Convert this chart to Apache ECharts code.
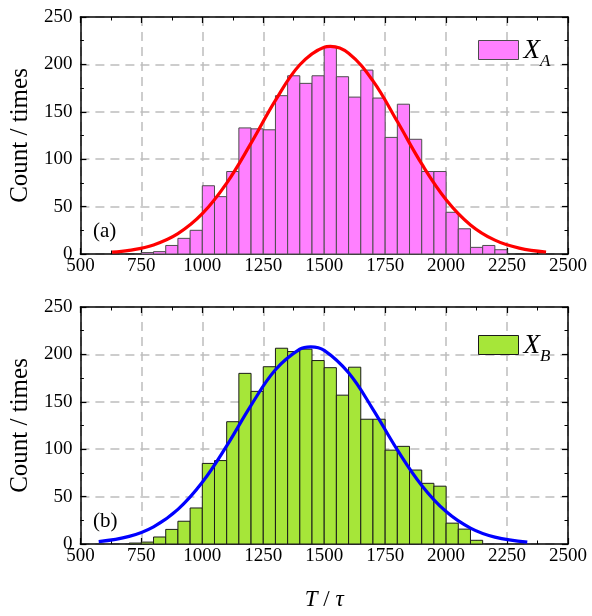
<!DOCTYPE html>
<html>
<head>
<meta charset="utf-8">
<script src="https://cdn.jsdelivr.net/npm/echarts@6/dist/echarts.min.js"></script>
<style>html,body{margin:0;padding:0;background:#fff;}#c{width:592px;height:616px;}</style>
</head>
<body>
<div id="c"></div>
<script>
// ---- data ----
const xTicks = [500, 750, 1000, 1250, 1500, 1750, 2000, 2250, 2500];
const yTicks = [0, 50, 100, 150, 200, 250];
const binWidth = 50;
const binStartsA = [750, 800, 850, 900, 950, 1000, 1050, 1100, 1150, 1200, 1250, 1300, 1350, 1400, 1450, 1500, 1550, 1600, 1650, 1700, 1750, 1800, 1850, 1900, 1950, 2000, 2050, 2100, 2150, 2200];
const countsA    = [1.5, 2.5, 9, 16.5, 25, 72, 60.5, 87, 133, 132, 131, 167, 188, 180, 188, 219, 187, 165.5, 194, 164.5, 123, 158, 121, 87, 87, 44, 26.6, 7, 9, 4.5];
const binStartsB = [700, 750, 800, 850, 900, 950, 1000, 1050, 1100, 1150, 1200, 1250, 1300, 1350, 1400, 1450, 1500, 1550, 1600, 1650, 1700, 1750, 1800, 1850, 1900, 1950, 2000, 2050, 2100];
const countsB    = [1, 2, 7.4, 15.4, 24, 38, 85, 88, 129, 180, 161, 187, 206.5, 203, 205.5, 193.5, 186, 157, 186.5, 131.6, 131.6, 99, 103, 78, 64, 61, 22, 15.7, 3.9];
const fitXA = [630, 700, 800, 900, 1000, 1100, 1200, 1300, 1400, 1500, 1525, 1600, 1700, 1800, 1900, 2000, 2100, 2200, 2300, 2410];
const fitYA = [1.9, 3.8, 9.6, 21.5, 42.5, 74.8, 116.9, 162, 199.6, 218.2, 219, 211.8, 182.6, 139.7, 95, 57.3, 30.7, 14.6, 6.2, 2.1];
const fitXB = [575, 700, 800, 900, 1000, 1100, 1200, 1300, 1400, 1445, 1500, 1600, 1700, 1800, 1900, 2000, 2100, 2200, 2333];
const fitYB = [2.5, 8.0, 18.1, 36.5, 65.1, 103.5, 146.3, 183.8, 205.5, 208, 204.3, 180.6, 142.1, 99.3, 61.8, 34.2, 16.8, 7.3, 2.0];

const FONT = '"Liberation Serif", "Times New Roman", serif';
const chart = echarts.init(document.getElementById('c'), null, {renderer: 'canvas'});

const grids = [
  {left: 76, top: 17, width: 492, height: 237},
  {left: 76, top: 307, width: 492, height: 237}
];

function xAxes(gi) {
  const base = {
    gridIndex: gi, type: 'value', min: xTicks[0], max: xTicks[xTicks.length - 1], interval: 250,
    axisLine: {show: true, onZero: false, lineStyle: {color: '#000', width: 1.5}},
    axisTick: {show: true, inside: true, length: 6, lineStyle: {color: '#000', width: 1.2}},
    minorTick: {show: true, splitNumber: 2, length: 3.5, lineStyle: {color: '#000', width: 1}},
  };
  return [
    Object.assign({}, base, {
      position: 'bottom',
      axisLabel: {show: true, margin: 3, color: '#000', fontFamily: FONT, fontSize: 19, formatter: v => String(v)},
      splitLine: {show: true, lineStyle: {color: '#bdbdbd', type: [9, 6], width: 1.5}},
      name: gi === 1 ? '{i|T} / {i|τ}' : '', nameLocation: 'middle', nameGap: 44,
      nameTextStyle: {color: '#000', fontFamily: FONT, fontSize: 23, rich: {i: {fontStyle: 'italic', fontFamily: FONT, fontSize: 23, color: '#000'}}}
    }),
    Object.assign({}, base, {position: 'top', axisLabel: {show: false}, splitLine: {show: false}})
  ];
}
function yAxes(gi) {
  const base = {
    gridIndex: gi, type: 'value', min: yTicks[0], max: yTicks[yTicks.length - 1], interval: 50,
    axisLine: {show: true, onZero: false, lineStyle: {color: '#000', width: 1.5}},
    axisTick: {show: true, inside: true, length: 6, lineStyle: {color: '#000', width: 1.2}},
    minorTick: {show: true, splitNumber: 2, length: 3.5, lineStyle: {color: '#000', width: 1}},
  };
  return [
    Object.assign({}, base, {
      position: 'left',
      axisLabel: {show: true, margin: 8, color: '#000', fontFamily: FONT, fontSize: 19, formatter: v => String(v)},
      splitLine: {show: true, lineStyle: {color: '#bdbdbd', type: [9, 6], width: 1.5}},
      name: 'Count / times', nameLocation: 'middle', nameGap: 45,
      nameTextStyle: {color: '#000', fontFamily: FONT, fontSize: 25}
    }),
    Object.assign({}, base, {position: 'right', axisLabel: {show: false}, splitLine: {show: false}})
  ];
}

function histSeries(name, gi, starts, counts, fill, stroke) {
  return {
    name: name, type: 'custom', xAxisIndex: gi * 2, yAxisIndex: gi * 2,
    itemStyle: {color: fill, borderColor: stroke, borderWidth: 1},
    data: starts.map((s, i) => [s, counts[i]]),
    encode: {x: 0, y: 1},
    renderItem: function (params, api) {
      const x0 = api.value(0);
      const y = api.value(1);
      const p0 = api.coord([x0, 0]);
      const p1 = api.coord([x0 + binWidth, y]);
      return {
        type: 'rect',
        shape: {x: p0[0], y: p1[1], width: p1[0] - p0[0], height: p0[1] - p1[1]},
        style: {fill: fill, stroke: stroke, lineWidth: 1}
      };
    },
    z: 2
  };
}
function fitSeries(gi, xs, ys, color) {
  return {
    type: 'line', xAxisIndex: gi * 2, yAxisIndex: gi * 2,
    data: xs.map((x, i) => [x, ys[i]]),
    smooth: 0.4, showSymbol: false, symbol: 'none',
    lineStyle: {color: color, width: 3.2},
    z: 5, silent: true
  };
}

function legend(top, name, sub, fill, stroke) {
  return {
    left: 478, top: top, orient: 'vertical', itemWidth: 40, itemHeight: 19, itemGap: 8, padding: 0,
    data: [{name: name, icon: 'rect', itemStyle: {color: fill, borderColor: stroke, borderWidth: 1}}],
    formatter: function () { return '{x|X}{s|' + sub + '}'; },
    textStyle: {
      rich: {
        x: {fontFamily: FONT, fontStyle: 'italic', fontSize: 27, color: '#000', verticalAlign: 'bottom', lineHeight: 28},
        s: {fontFamily: FONT, fontStyle: 'italic', fontSize: 17, color: '#000', verticalAlign: 'bottom', padding: [0, 0, -6, 0], lineHeight: 28}
      }
    },
    selectedMode: false
  };
}

const option = {
  animation: false,
  backgroundColor: '#fff',
  grid: grids,
  xAxis: [...xAxes(0), ...xAxes(1)],
  yAxis: [...yAxes(0), ...yAxes(1)],
  legend: [
    legend(37, 'XA', 'A', '#ff80ff', '#4d4d4d'),
    legend(332, 'XB', 'B', '#a6e639', '#1a1a1a')
  ],
  series: [
    histSeries('XA', 0, binStartsA, countsA, '#ff80ff', '#4d4d4d'),
    fitSeries(0, fitXA, fitYA, '#ff0000'),
    histSeries('XB', 1, binStartsB, countsB, '#a6e639', '#1a1a1a'),
    fitSeries(1, fitXB, fitYB, '#0000ff')
  ],
  graphic: [
    {type: 'text', left: 93, top: 221, style: {text: '(a)', font: '21px ' + FONT, fill: '#000'}},
    {type: 'text', left: 93, top: 511, style: {text: '(b)', font: '21px ' + FONT, fill: '#000'}}
  ]
};
chart.setOption(option);
</script>
</body>
</html>
